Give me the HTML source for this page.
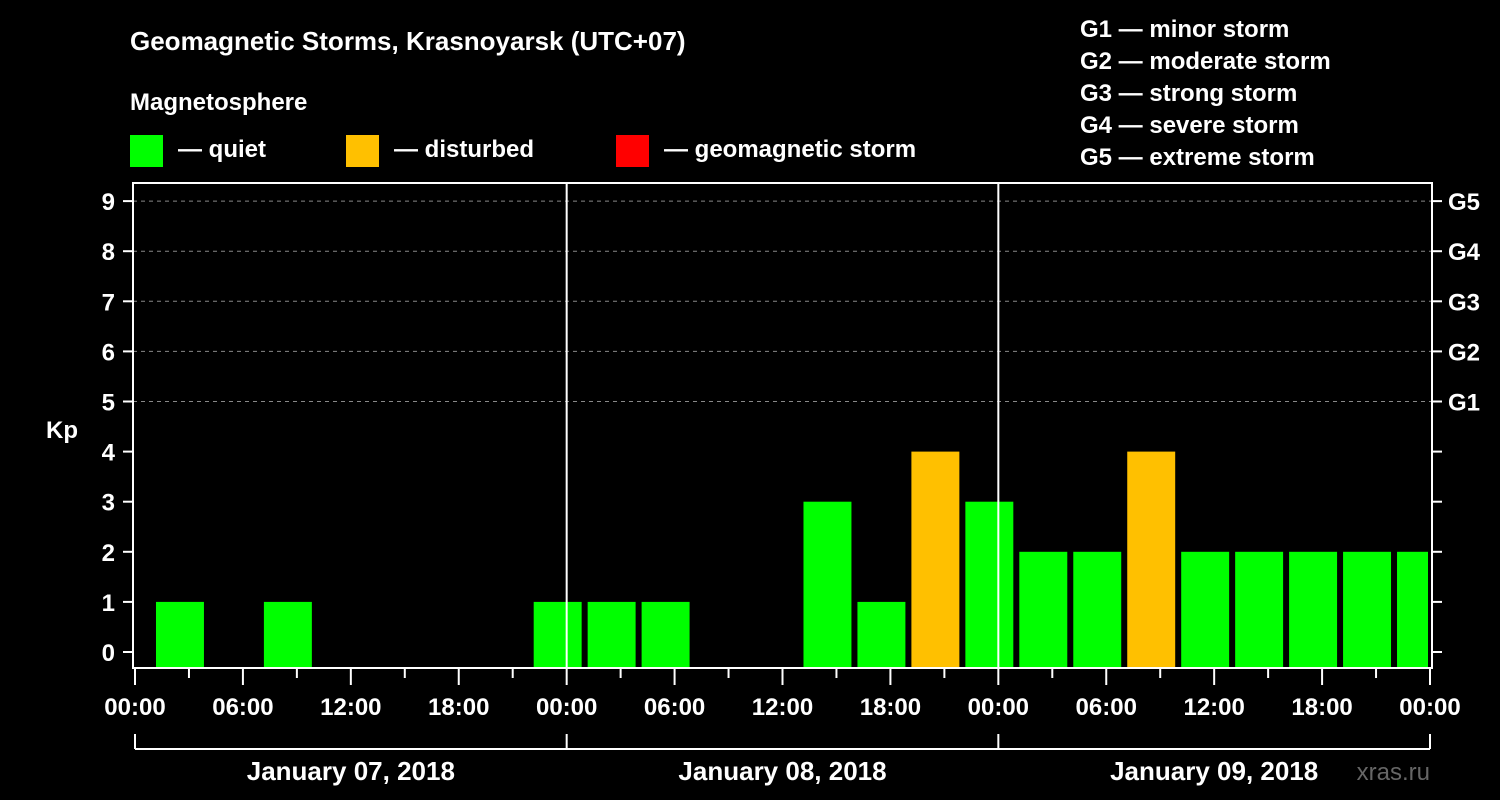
<!DOCTYPE html>
<html><head><meta charset="utf-8"><style>
html,body{margin:0;padding:0;background:#000;}
svg{display:block;font-family:"Liberation Sans",Arial,sans-serif;font-weight:bold;}
</style></head><body>
<svg id="chart" width="1500" height="800" viewBox="0 0 1500 800">
<rect x="0" y="0" width="1500" height="800" fill="#000"/>
<text x="130" y="50" font-size="26" fill="#fff">Geomagnetic Storms, Krasnoyarsk (UTC+07)</text>
<text x="130" y="110" font-size="24" fill="#fff">Magnetosphere</text>
<g><rect x="130" y="135" width="33" height="32" fill="#00ff00"/><text x="178" y="157" font-size="24" fill="#fff">— quiet</text></g>
<g><rect x="346" y="135" width="33" height="32" fill="#ffc000"/><text x="394" y="157" font-size="24" fill="#fff">— disturbed</text></g>
<g><rect x="616" y="135" width="33" height="32" fill="#ff0000"/><text x="664" y="157" font-size="24" fill="#fff">— geomagnetic storm</text></g>
<g font-size="24" fill="#fff">
<text x="1080" y="37">G1 — minor storm</text>
<text x="1080" y="69">G2 — moderate storm</text>
<text x="1080" y="101">G3 — strong storm</text>
<text x="1080" y="133">G4 — severe storm</text>
<text x="1080" y="165">G5 — extreme storm</text>
</g>
<text x="62" y="438" font-size="24" fill="#fff" text-anchor="middle">Kp</text>
<text x="1430" y="780" font-size="24" fill="#666" text-anchor="end" font-weight="normal">xras.ru</text>
<g id="grid"></g><g id="bars"></g><g id="axes"></g>
</svg>
<script>
const kpValues = [1,0,1,0,0,0,0,1, 1,1,0,0,3,1,4,3, 2,2,4,2,2,2,2,2];
const binStartHour = 1;
const binHours = 3;
const yTicks = [0,1,2,3,4,5,6,7,8,9];
const gLabels = ["G1","G2","G3","G4","G5"];
const xTickLabels = ["00:00","06:00","12:00","18:00","00:00","06:00","12:00","18:00","00:00","06:00","12:00","18:00","00:00"];
const dateLabels = ["January 07, 2018","January 08, 2018","January 09, 2018"];

const NS="http://www.w3.org/2000/svg";
const X0=135,X1=1430,TOTAL=72,TOP=183,BOT=668;
const xs=h=>X0+(X1-X0)*h/TOTAL;
const ys=v=>652-50.1*v;
function mk(tag,attrs,parent){const e=document.createElementNS(NS,tag);for(const k in attrs)e.setAttribute(k,attrs[k]);parent.appendChild(e);return e;}
const grid=document.getElementById('grid'),bars=document.getElementById('bars'),axes=document.getElementById('axes');
// gridlines 5..9
for(let v=5;v<=9;v++){const l=mk('line',{x1:X0-2,x2:X1+2,y1:ys(v),y2:ys(v),stroke:'#888','stroke-dasharray':'4,4','stroke-width':1},grid);

}
// bars
kpValues.forEach((v,i)=>{if(v<=0)return;
const h0=binStartHour+i*binHours;const a=xs(h0)+3;let b=xs(h0+binHours)-3;if(b>X1-2)b=X1-2;
const col=v>=5?'#ff0000':(v>=4?'#ffc000':'#00ff00');
const r=mk('rect',{x:a,y:ys(v),width:b-a,height:BOT-ys(v),fill:col},bars);

});
// frame
const fr=mk('rect',{x:X0-2,y:TOP,width:X1-X0+4,height:BOT-TOP,fill:'none',stroke:'#fff','stroke-width':2},axes);


// day dividers
[24,48].forEach(h=>{const l=mk('line',{x1:xs(h),x2:xs(h),y1:TOP,y2:BOT,stroke:'#fff','stroke-width':2},axes);

});
// y ticks
yTicks.forEach(v=>{mk('line',{x1:X0-12,x2:X0-2,y1:ys(v),y2:ys(v),stroke:'#fff','stroke-width':2},axes);
mk('line',{x1:X1+2,x2:X1+12,y1:ys(v),y2:ys(v),stroke:'#fff','stroke-width':2},axes);
const t=mk('text',{x:X0-20,y:ys(v)+9,'font-size':24,fill:'#fff','text-anchor':'end'},axes);t.textContent=v;

});
gLabels.forEach((g,i)=>{const t=mk('text',{x:X1+18,y:ys(5+i)+9,'font-size':24,fill:'#fff'},axes);t.textContent=g;

});
// x ticks
for(let h=0;h<=TOTAL;h+=3){const major=h%6===0;mk('line',{x1:xs(h),x2:xs(h),y1:BOT,y2:BOT+(major?17:10),stroke:'#fff','stroke-width':2},axes);}
xTickLabels.forEach((s,i)=>{const t=mk('text',{x:xs(i*6),y:715,'font-size':24,fill:'#fff','text-anchor':'middle'},axes);t.textContent=s;

});
// date bracket
mk('line',{x1:X0,x2:X1,y1:749,y2:749,stroke:'#fff','stroke-width':2},axes);
[0,24,48,72].forEach(h=>mk('line',{x1:xs(h),x2:xs(h),y1:734,y2:749,stroke:'#fff','stroke-width':2},axes));
dateLabels.forEach((s,i)=>{const t=mk('text',{x:xs(i*24+12),y:780,'font-size':26,fill:'#fff','text-anchor':'middle'},axes);t.textContent=s;

});
</script>
</body></html>
